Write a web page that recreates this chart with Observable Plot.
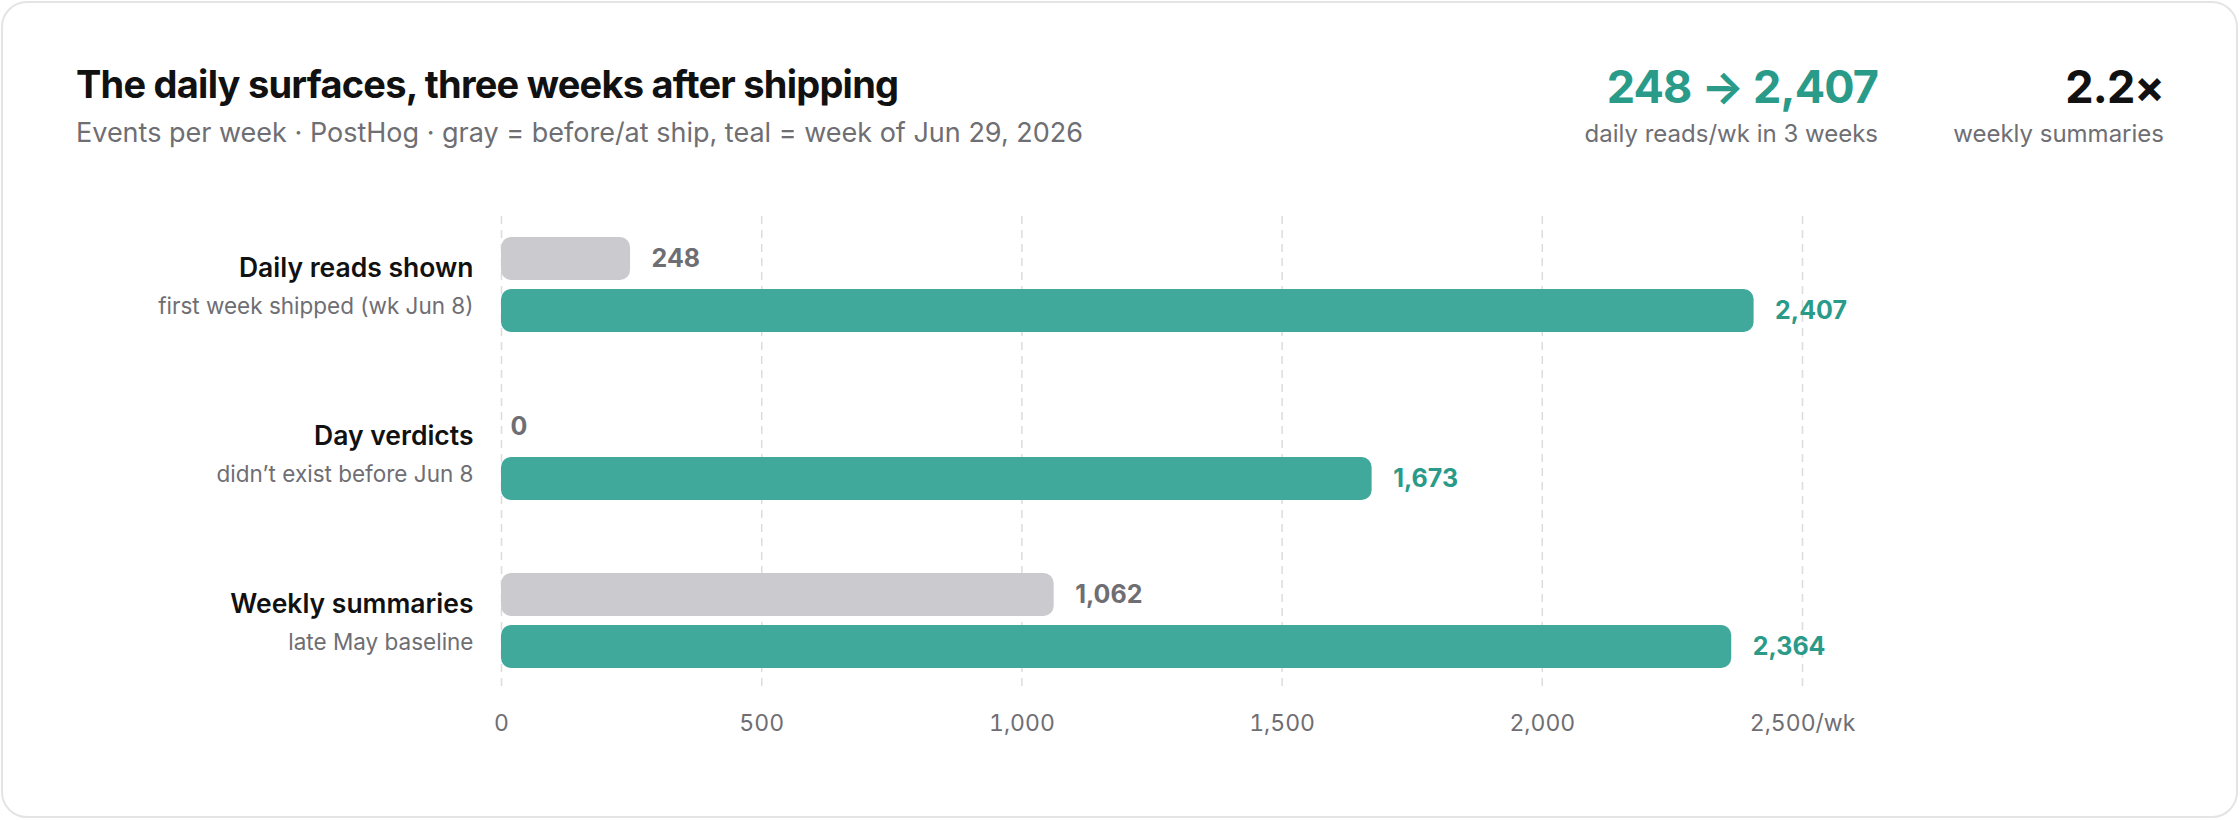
<!DOCTYPE html>
<html>
<head>
<meta charset="utf-8">
<script src="https://cdn.jsdelivr.net/npm/d3@7"></script>
<script src="https://cdn.jsdelivr.net/npm/@observablehq/plot@0.6"></script>
<style>
  html, body { margin: 0; padding: 0; background: #fff; }
  body { position: relative; width: 2240px; height: 820px; overflow: hidden; font-family: Inter, "Noto Sans", sans-serif; }
  .card { position: absolute; left: 1px; top: 1px; width: 2237px; height: 817px; box-sizing: border-box; border: 2px solid #e4e4e6; border-radius: 26px; }
  .abs { position: absolute; white-space: nowrap; line-height: 1; }
  #title { left: 76px; top: 65px; font-size: 38px; font-weight: 700; letter-spacing: -0.02em; color: #111; }
  #subtitle { left: 76px; top: 119px; font-size: 27px; color: #6e6e73; }
  .statnum { top: 64px; font-size: 45px; font-weight: 700; letter-spacing: -0.02em; text-align: right; }
  .statlab { top: 122px; font-size: 24px; color: #6e6e73; text-align: right; }
  .layer { position: absolute; left: 0; top: 0; }
</style>
</head>
<body>
<div class="card"></div>
<div id="title" class="abs">The daily surfaces, three weeks after shipping</div>
<div id="subtitle" class="abs">Events per week · PostHog · gray = before/at ship, teal = week of Jun 29, 2026</div>
<div class="abs statnum" style="right:362px;color:#2a9a89">248 → 2,407</div>
<div class="abs statlab" style="right:362px">daily reads/wk in 3 weeks</div>
<div class="abs statnum" style="right:76px;color:#111">2.2×</div>
<div class="abs statlab" style="right:76px">weekly summaries</div>
<div id="grid" class="layer"></div>
<div id="chart" class="layer"></div>
<script>
const categories = ["Daily reads shown", "Day verdicts", "Weekly summaries"];
const notes = ["first week shipped (wk Jun 8)", "didn’t exist before Jun 8", "late May baseline"];
const beforeValues = [248, 0, 1062];
const afterValues = [2407, 1673, 2364];
const periods = ["before", "after"];
const xTicks = [0, 500, 1000, 1500, 2000, 2500];
const xUnit = "/wk";

const teal = "#41a99b", tealText = "#2a9a89", gray = "#cbcbcf", grayText = "#6e6e73";

const rows = categories.flatMap((c, i) => [
  {category: c, period: "before", value: beforeValues[i]},
  {category: c, period: "after", value: afterValues[i]}
]);
const labels = categories.map((c, i) => ({category: c, note: notes[i]}));
const fmt = d3.format(",");
const tickFormat = (d, i) => fmt(d) + (d === xTicks[xTicks.length - 1] ? xUnit : "");

const before = rows.filter(d => d.period === "before");
const after = rows.filter(d => d.period === "after");

const frame = {
  width: 2240, height: 770,
  marginLeft: 501, marginRight: 438, marginTop: 216, marginBottom: 80,
  style: {background: "transparent", fontFamily: "Inter, 'Noto Sans', sans-serif"}
};

// background layer: dashed grid + x axis labels over the whole frame
const grid = Plot.plot({
  ...frame,
  x: {domain: [0, 2500], axis: null},
  marks: [
    Plot.ruleX(xTicks, {x: d => d, stroke: "#dcdcdf", strokeWidth: 1.5, strokeDasharray: "8,6"}),
    Plot.axisX({ticks: xTicks, tickFormat, tickSize: 0, tickPadding: 24, fontSize: 23, fill: grayText})
  ]
});
document.getElementById("grid").appendChild(grid);

// foreground layer: grouped bars faceted by category
const chart = Plot.plot({
  ...frame,
  x: {domain: [0, 2500], axis: null},
  y: {domain: periods, paddingInner: 0.17, paddingOuter: 0, axis: null},
  fy: {domain: categories, paddingInner: 0.4286, paddingOuter: 0.125, axis: null},
  marks: [
    Plot.barX(before, {fy: "category", y: "period", x: "value", fill: gray, rx: 10}),
    Plot.barX(after, {fy: "category", y: "period", x: "value", fill: teal, rx: 10}),
    Plot.text(before.filter(d => d.value > 0), {fy: "category", y: "period", x: "value", text: d => fmt(d.value), dx: 21, textAnchor: "start", fontSize: 25, fontWeight: 700, fill: grayText}),
    Plot.text(before.filter(d => d.value === 0), {fy: "category", y: "period", x: "value", text: d => fmt(d.value), dx: 9, textAnchor: "start", fontSize: 25, fontWeight: 700, fill: grayText}),
    Plot.text(after, {fy: "category", y: "period", x: "value", text: d => fmt(d.value), dx: 21, textAnchor: "start", fontSize: 25, fontWeight: 700, fill: tealText}),
    Plot.text(labels, {fy: "category", text: "category", frameAnchor: "left", textAnchor: "end", dx: -28, dy: -17, fontSize: 26.5, fontWeight: 600, fill: "#111"}),
    Plot.text(labels, {fy: "category", text: "note", frameAnchor: "left", textAnchor: "end", dx: -28, dy: 21, fontSize: 22.5, fill: grayText})
  ]
});
document.getElementById("chart").appendChild(chart);
</script>
</body>
</html>
